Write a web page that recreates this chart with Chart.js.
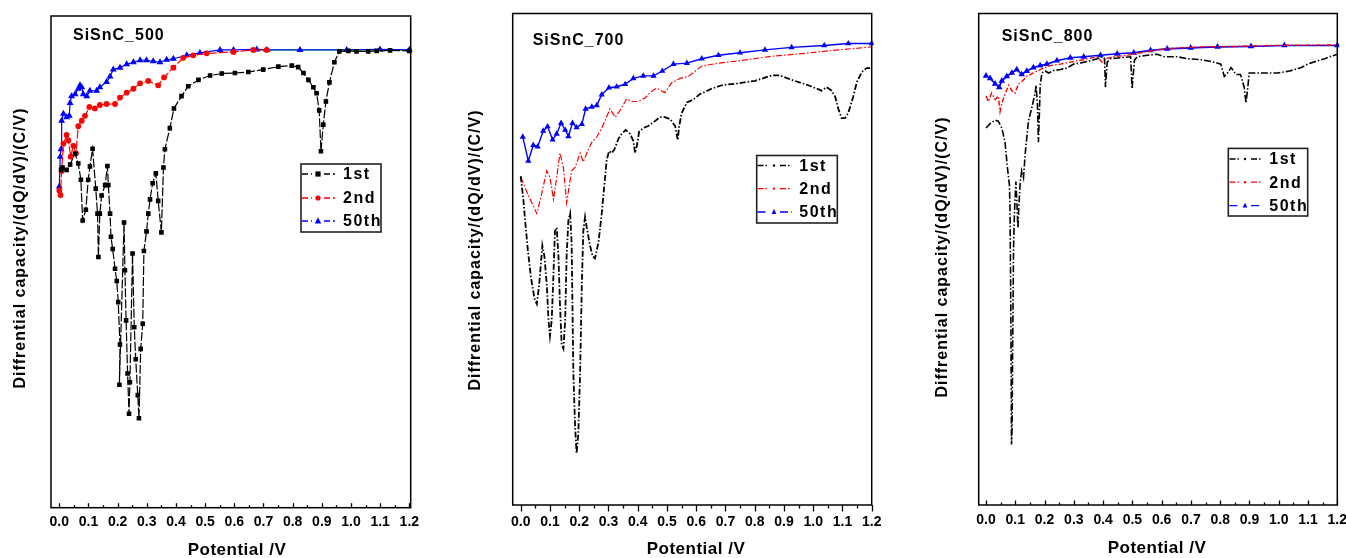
<!DOCTYPE html>
<html>
<head>
<meta charset="utf-8">
<script src="https://cdn.jsdelivr.net/npm/chart.js@4.4.1/dist/chart.umd.min.js"></script>
<style>
  html, body { margin: 0; padding: 0; background: #fff; }
  body { width: 1346px; height: 558px; position: relative; overflow: hidden; }
  canvas { position: absolute; top: 0; }
</style>
</head>
<body>
<canvas id="c1" width="455" height="558" style="left:0px"></canvas>
<canvas id="c2" width="445" height="558" style="left:455px"></canvas>
<canvas id="c3" width="446" height="558" style="left:900px"></canvas>
<script>
// ---------- DATA (x = potential / V, y = relative dQ/dV, arbitrary units) ----------
const xTickValues = [0.0, 0.1, 0.2, 0.3, 0.4, 0.5, 0.6, 0.7, 0.8, 0.9, 1.0, 1.1, 1.2];
const xTickLabels = ['0.0','0.1','0.2','0.3','0.4','0.5','0.6','0.7','0.8','0.9','1.0','1.1','1.2'];
const seriesNames = ['1st', '2nd', '50th'];
const panelTitles = ['SiSnC_500', 'SiSnC_700', 'SiSnC_800'];
const yAxisTitle = 'Diffrential capacity/(dQ/dV)/(C/V)';
const xAxisTitle = 'Potential /V';

// SiSnC_500
const s500_1st = [[0.006,68.7],[0.011,69.2],[0.025,68.7],[0.037,69.8],[0.054,72.0],[0.065,70.0],[0.074,66.7],[0.080,58.4],[0.091,60.6],[0.099,66.7],[0.105,69.4],[0.114,73.0],[0.125,64.9],[0.131,59.8],[0.134,51.0],[0.139,59.8],[0.145,63.5],[0.157,65.6],[0.165,69.5],[0.168,65.6],[0.174,59.8],[0.177,55.1],[0.183,52.6],[0.191,48.6],[0.197,46.1],[0.202,41.8],[0.208,33.2],[0.206,25.0],[0.222,58.0],[0.225,48.3],[0.229,38.1],[0.234,27.3],[0.239,19.1],[0.242,25.5],[0.251,51.7],[0.257,36.7],[0.262,30.2],[0.269,22.9],[0.273,18.2],[0.279,32.3],[0.286,37.4],[0.290,52.2],[0.299,56.2],[0.305,59.8],[0.311,62.7],[0.320,66.0],[0.331,68.0],[0.339,62.4],[0.350,56.0],[0.357,69.2],[0.362,72.9],[0.379,77.2],[0.393,81.2],[0.419,83.7],[0.442,85.7],[0.477,87.0],[0.517,87.9],[0.557,88.3],[0.602,88.4],[0.648,88.6],[0.699,89.1],[0.751,89.7],[0.797,89.9],[0.819,89.6],[0.837,88.4],[0.854,87.0],[0.871,85.5],[0.882,84.3],[0.891,80.8],[0.897,72.5],[0.905,77.9],[0.914,82.6],[0.926,86.5],[0.943,90.6],[0.960,92.8],[0.991,92.9],[1.019,92.8],[1.059,92.8],[1.088,92.9],[1.134,93.0],[1.2,92.9]];
const s500_2nd = [[0.0,64.5],[0.004,63.6],[0.008,68.5],[0.014,74.0],[0.025,75.8],[0.031,74.7],[0.039,71.4],[0.048,73.6],[0.057,72.1],[0.065,77.6],[0.077,78.7],[0.088,79.7],[0.103,81.5],[0.122,81.2],[0.139,81.9],[0.162,82.1],[0.191,82.1],[0.208,83.4],[0.231,84.4],[0.254,85.2],[0.277,86.3],[0.305,86.8],[0.339,85.9],[0.359,87.5],[0.391,89.5],[0.425,91.5],[0.459,92.0],[0.505,92.4],[0.597,92.7],[0.665,93.1],[0.711,93.1]];
const s500_50th = [[0.0,65.3],[0.003,71.4],[0.006,72.9],[0.008,78.7],[0.014,80.1],[0.025,79.4],[0.034,79.7],[0.037,82.3],[0.042,83.7],[0.054,84.1],[0.065,85.2],[0.071,85.9],[0.077,85.5],[0.082,84.1],[0.094,83.7],[0.105,84.8],[0.128,84.8],[0.139,85.5],[0.162,86.6],[0.174,87.7],[0.185,89.1],[0.208,89.5],[0.231,90.2],[0.254,90.6],[0.277,91.0],[0.299,91.0],[0.322,90.8],[0.345,90.6],[0.368,91.1],[0.391,91.3],[0.437,92.0],[0.482,92.5],[0.551,93.1],[0.597,93.1],[0.677,93.2],[0.711,93.1],[0.825,93.1],[0.985,93.1],[1.099,93.2],[1.2,93.1]];
const s500_extra = [[0.66,93.1],[1.2,93.1]];

// SiSnC_700
const s700_1st = [[0.0,66.9],[0.009,62.2],[0.015,57.9],[0.024,52.1],[0.035,46.3],[0.047,42.0],[0.055,40.9],[0.063,44.7],[0.070,49.9],[0.074,52.8],[0.081,50.6],[0.089,44.9],[0.095,37.6],[0.100,34.4],[0.106,37.6],[0.112,47.0],[0.117,55.7],[0.123,56.4],[0.129,50.6],[0.134,41.2],[0.140,32.6],[0.146,31.8],[0.152,37.6],[0.157,50.6],[0.163,57.9],[0.169,59.3],[0.174,53.5],[0.180,26.8],[0.186,15.9],[0.191,10.5],[0.197,14.5],[0.203,26.8],[0.209,44.9],[0.214,55.7],[0.220,58.6],[0.226,56.4],[0.237,52.8],[0.246,50.6],[0.254,50.2],[0.266,53.5],[0.277,59.3],[0.286,65.1],[0.294,70.2],[0.302,72.0],[0.311,71.6],[0.320,72.3],[0.334,74.5],[0.345,75.5],[0.359,76.3],[0.374,75.5],[0.385,74.1],[0.391,71.6],[0.397,73.1],[0.405,76.0],[0.419,76.7],[0.436,77.1],[0.459,78.1],[0.476,78.9],[0.493,78.9],[0.511,78.5],[0.528,77.1],[0.537,74.2],[0.541,76.8],[0.550,79.7],[0.568,81.9],[0.590,82.5],[0.613,83.6],[0.653,84.7],[0.687,85.4],[0.744,85.8],[0.801,86.3],[0.858,87.4],[0.887,87.4],[0.926,86.5],[0.983,85.4],[1.029,84.3],[1.046,85.0],[1.063,84.3],[1.075,83.1],[1.086,80.6],[1.097,78.7],[1.109,78.7],[1.120,79.8],[1.137,83.1],[1.149,86.0],[1.166,88.1],[1.183,88.9],[1.2,88.9]];
const s700_2nd = [[0.0,66.6],[0.003,66.3],[0.021,63.7],[0.038,61.5],[0.055,59.3],[0.070,62.9],[0.089,68.0],[0.100,66.6],[0.112,62.2],[0.123,66.6],[0.134,71.6],[0.146,68.7],[0.157,61.5],[0.174,68.0],[0.186,68.7],[0.203,71.6],[0.214,69.8],[0.226,71.6],[0.243,73.8],[0.260,74.9],[0.271,76.0],[0.288,78.1],[0.305,80.6],[0.323,78.9],[0.340,80.3],[0.362,82.6],[0.379,82.1],[0.402,82.1],[0.425,82.8],[0.448,84.2],[0.465,84.8],[0.493,83.9],[0.516,85.9],[0.545,86.8],[0.573,87.2],[0.619,89.3],[0.676,89.9],[0.750,90.4],[0.858,91.3],[0.972,91.9],[1.086,92.6],[1.2,93.2]];
const s700_50th = [[0.007,74.9],[0.026,70.0],[0.043,73.2],[0.058,72.9],[0.077,76.1],[0.092,77.0],[0.109,74.3],[0.123,75.5],[0.138,77.7],[0.152,76.3],[0.163,75.0],[0.177,77.7],[0.191,76.8],[0.209,77.5],[0.222,80.6],[0.243,81.0],[0.260,81.3],[0.277,83.5],[0.302,84.9],[0.328,85.1],[0.357,85.6],[0.385,86.8],[0.419,87.3],[0.454,87.3],[0.484,88.3],[0.522,89.7],[0.568,89.9],[0.619,90.8],[0.676,91.5],[0.750,92.0],[0.835,92.6],[0.926,93.1],[1.038,93.5],[1.120,93.9],[1.2,93.9]];

// SiSnC_800
const s800_1st = [[0.0,76.7],[0.014,77.6],[0.031,78.3],[0.042,78.1],[0.054,76.7],[0.065,73.8],[0.073,68.7],[0.080,65.1],[0.082,60.1],[0.085,37.6],[0.087,12.3],[0.089,15.2],[0.091,31.8],[0.094,52.1],[0.097,59.3],[0.102,65.8],[0.105,62.2],[0.109,56.4],[0.112,60.6],[0.117,65.8],[0.122,68.0],[0.128,66.6],[0.134,71.6],[0.145,78.1],[0.157,81.0],[0.168,83.9],[0.171,85.4],[0.176,81.0],[0.179,73.8],[0.183,81.0],[0.185,85.4],[0.191,87.9],[0.202,88.3],[0.214,87.9],[0.231,88.4],[0.254,88.6],[0.277,88.9],[0.299,89.7],[0.328,90.0],[0.357,90.4],[0.379,90.8],[0.397,91.2],[0.405,90.8],[0.408,85.0],[0.414,90.1],[0.425,90.8],[0.459,91.0],[0.494,91.2],[0.499,84.7],[0.507,90.5],[0.517,91.2],[0.551,91.5],[0.585,91.7],[0.608,91.2],[0.654,91.2],[0.688,90.8],[0.734,90.6],[0.779,90.1],[0.802,89.7],[0.814,87.2],[0.825,87.9],[0.837,89.0],[0.854,87.6],[0.869,87.6],[0.882,85.0],[0.888,81.8],[0.894,84.8],[0.899,87.9],[0.939,87.9],[0.997,87.9],[1.037,88.3],[1.054,88.6],[1.077,89.0],[1.099,89.7],[1.134,90.4],[1.157,90.8],[1.179,91.3],[1.2,91.7]];
const s800_2nd = [[0.0,83.2],[0.008,82.1],[0.019,83.8],[0.031,82.5],[0.042,83.2],[0.048,80.0],[0.054,81.8],[0.065,83.6],[0.077,85.4],[0.088,84.3],[0.099,83.8],[0.111,85.7],[0.122,86.1],[0.139,87.2],[0.162,87.9],[0.185,88.6],[0.219,89.4],[0.254,89.7],[0.288,90.1],[0.334,90.6],[0.379,91.2],[0.397,90.1],[0.408,90.8],[0.437,91.2],[0.482,91.5],[0.528,92.0],[0.585,92.6],[0.654,93.0],[0.734,93.2],[0.848,93.3],[0.962,93.5],[1.2,93.6]];
const s800_50th = [[0.0,87.3],[0.014,86.8],[0.031,85.7],[0.045,85.0],[0.054,86.3],[0.071,87.2],[0.088,87.9],[0.105,88.6],[0.122,87.6],[0.139,88.3],[0.162,89.0],[0.185,89.4],[0.208,89.7],[0.242,90.4],[0.288,91.0],[0.334,91.2],[0.391,91.5],[0.448,91.8],[0.505,92.0],[0.562,92.5],[0.619,92.8],[0.699,93.0],[0.791,93.2],[0.905,93.3],[1.019,93.5],[1.2,93.5]];

// ---------- RENDERING ----------
const FONT = '"Liberation Sans", Arial, sans-serif';
const toXY = arr => arr.map(p => ({x: p[0], y: p[1]}));

const decorPlugin = {
  id: 'decor',
  afterDraw(chart, args, o) {
    const ctx = chart.ctx;
    const ca = chart.chartArea;
    const xs = chart.scales.x;
    ctx.save();
    // frame
    ctx.strokeStyle = o.frameColor || '#000';
    ctx.lineWidth = 1.5;
    ctx.strokeRect(ca.left, ca.top, ca.right - ca.left, ca.bottom - ca.top);
    // ticks (major from tick list, minor halfway)
    ctx.lineWidth = 1.3;
    const dir = o.tickDir === 'in' ? -1 : 1;
    const vals = [];
    xTickValues.forEach((v, i) => {
      vals.push([v, o.majorLen]);
      if (i < xTickValues.length - 1) vals.push([(v + xTickValues[i + 1]) / 2, o.minorLen]);
    });
    vals.forEach(([v, len]) => {
      const px = Math.round(xs.getPixelForValue(v)) + 0.5;
      ctx.beginPath();
      ctx.moveTo(px, ca.bottom);
      ctx.lineTo(px, ca.bottom + dir * len);
      ctx.stroke();
    });
    // panel title
    ctx.fillStyle = '#000';
    ctx.textBaseline = 'middle';
    ctx.textAlign = 'left';
    ctx.font = 'bold 16px ' + FONT;
    try { ctx.letterSpacing = '1px'; } catch (e) {}
    ctx.fillText(o.label.text, o.label.x, o.label.y);
    // y title
    ctx.save();
    ctx.translate(o.ytitle.x, o.ytitle.y);
    ctx.rotate(-Math.PI / 2);
    ctx.textAlign = 'center';
    ctx.font = 'bold 16px ' + FONT;
    ctx.fillText(yAxisTitle, 0, 0);
    ctx.restore();
    // x title
    ctx.textAlign = 'center';
    ctx.font = 'bold 17px ' + FONT;
    try { ctx.letterSpacing = '0.5px'; } catch (e) {}
    ctx.fillText(xAxisTitle, o.xtitle.x, o.xtitle.y);
    // legend
    const L = o.legend;
    ctx.lineWidth = 1.6;
    ctx.strokeStyle = '#222';
    ctx.strokeRect(L.box[0], L.box[1], L.box[2] - L.box[0], L.box[3] - L.box[1]);
    ctx.font = 'bold 16px ' + FONT;
    try { ctx.letterSpacing = '1.5px'; } catch (e) {}
    ctx.textAlign = 'left';
    chart.data.datasets.forEach((ds, i) => {
      if (ds.noLegend) return;
      const y = L.rows[i];
      ctx.strokeStyle = ds.borderColor;
      ctx.lineWidth = 1.3;
      ctx.setLineDash(L.dash[i]);
      ctx.beginPath();
      ctx.moveTo(L.line[0], y); ctx.lineTo(L.mark - 6, y);
      ctx.moveTo(L.mark + 6, y); ctx.lineTo(L.line[1], y);
      ctx.stroke();
      ctx.setLineDash([]);
      ctx.fillStyle = ds.borderColor;
      const ms = L.markSize[i];
      if (ds.pointStyle === 'rect') {
        ctx.fillRect(L.mark - ms, y - ms, 2 * ms, 2 * ms);
      } else if (ds.pointStyle === 'triangle') {
        ctx.beginPath();
        ctx.moveTo(L.mark, y - ms * 1.2);
        ctx.lineTo(L.mark + ms, y + ms * 0.8);
        ctx.lineTo(L.mark - ms, y + ms * 0.8);
        ctx.closePath(); ctx.fill();
      } else {
        ctx.beginPath(); ctx.arc(L.mark, y, ms, 0, Math.PI * 2); ctx.fill();
      }
      ctx.fillStyle = '#000';
      ctx.fillText(seriesNames[i], L.textX, y + 1);
    });
    ctx.restore();
  }
};

function makeChart(id, cfg) {
  return new Chart(document.getElementById(id), {
    type: 'line',
    data: { datasets: cfg.datasets },
    plugins: [decorPlugin],
    options: {
      responsive: false,
      animation: false,
      devicePixelRatio: 1,
      layout: { padding: cfg.padding },
      plugins: { legend: { display: false }, tooltip: { enabled: false }, decor: cfg.decor },
      elements: { line: { tension: 0 } },
      scales: {
        x: {
          type: 'linear', min: cfg.xmin, max: cfg.xmax,
          grid: { display: false, drawTicks: false },
          border: { display: false },
          ticks: {
            includeBounds: false, autoSkip: false, maxRotation: 0,
            padding: cfg.tickPad, color: '#000',
            font: { family: FONT, size: 14, weight: 'bold' },
            callback: (v, i) => xTickLabels[i]
          },
          afterBuildTicks: s => { s.ticks = xTickValues.map(v => ({ value: v })); },
          afterFit: s => { s.height = cfg.xHeight; s.paddingLeft = 0; s.paddingRight = 0; }
        },
        y: { type: 'linear', min: 0, max: 100, display: false }
      }
    }
  });
}

function ds(arr, color, opt) {
  return Object.assign({
    data: toXY(arr), borderColor: color, backgroundColor: color,
    borderWidth: 1.2, pointRadius: 0, pointStyle: 'circle', fill: false, clip: 2
  }, opt);
}

// Panel 1: SiSnC_500
makeChart('c1', {
  padding: { left: 51, top: 16, right: 44.3, bottom: 0 },
  xHeight: 50.3, xmin: -0.0285, xmax: 1.2047, tickPad: 6,
  datasets: [
    ds(s500_1st, '#000000', { pointStyle: 'rect', pointRadius: 2.4, borderDash: [9, 2] }),
    ds(s500_2nd, '#ff0000', { pointStyle: 'circle', pointRadius: 2.3, borderDash: [9, 2] }),
    ds(s500_50th, '#0000ff', { pointStyle: 'triangle', pointRadius: 2.8 }),
    ds(s500_extra, '#00ff00', { noLegend: true, borderWidth: 1.3 })
  ],
  decor: {
    tickDir: 'in', majorLen: 4.5, minorLen: 2.5,
    label: { text: panelTitles[0], x: 73, y: 36 },
    ytitle: { x: 21, y: 248 }, xtitle: { x: 237, y: 550 },
    legend: { box: [301, 164, 381, 232], rows: [174, 198, 221], line: [302, 335], mark: 318, textX: 343,
      dash: [[6, 3], [6, 3], [6, 3]], markSize: [2.6, 2.6, 3.2] }
  }
});

// Panel 2: SiSnC_700
makeChart('c2', {
  padding: { left: 57.7, top: 13.5, right: 28.3, bottom: 0 },
  xHeight: 53, xmin: -0.0274, xmax: 1.2, tickPad: 9,
  datasets: [
    ds(s700_1st, '#000000', { borderWidth: 1.8, borderDash: [6, 2, 1.5, 2] }),
    ds(s700_2nd, '#ff0000', { borderWidth: 1.2, borderDash: [6, 2, 1.5, 2] }),
    ds(s700_50th, '#0000ff', { borderWidth: 1.4, pointStyle: 'triangle', pointRadius: 2.2 })
  ],
  decor: {
    tickDir: 'out', majorLen: 6.5, minorLen: 3.5,
    label: { text: panelTitles[1], x: 77.7, y: 41 },
    ytitle: { x: 21, y: 250 }, xtitle: { x: 241, y: 549.5 },
    legend: { box: [301.7, 155.5, 382.3, 223], rows: [165.5, 188.6, 212], line: [302.5, 336.7], mark: 319, textX: 344.3,
      dash: [[6, 2, 1.5, 2], [6, 2, 1.5, 2], [8, 3]], markSize: [1.2, 1.2, 2.4] }
  }
});

// Panel 3: SiSnC_800
makeChart('c3', {
  padding: { left: 78.7, top: 13.5, right: 8.7, bottom: 0 },
  xHeight: 53, xmin: -0.025, xmax: 1.2, tickPad: 6.7,
  datasets: [
    ds(s800_1st, '#000000', { borderWidth: 1.6, borderDash: [7, 2, 1.5, 2] }),
    ds(s800_2nd, '#ff0000', { borderWidth: 1.4, borderDash: [5, 2, 1.5, 2] }),
    ds(s800_50th, '#0000ff', { borderWidth: 1.6, pointStyle: 'triangle', pointRadius: 2.2 })
  ],
  decor: {
    tickDir: 'in', majorLen: 4.5, minorLen: 2.5,
    label: { text: panelTitles[2], x: 101.7, y: 36.7 },
    ytitle: { x: 43, y: 257 }, xtitle: { x: 257, y: 548 },
    legend: { box: [328.3, 148.4, 407.7, 216], rows: [159, 182.2, 205.7], line: [329.5, 361.7], mark: 345, textX: 369.3,
      dash: [[6, 2, 1.5, 2], [6, 2, 1.5, 2], [8, 3]], markSize: [1.2, 1.2, 2.4] }
  }
});
</script>
</body>
</html>
